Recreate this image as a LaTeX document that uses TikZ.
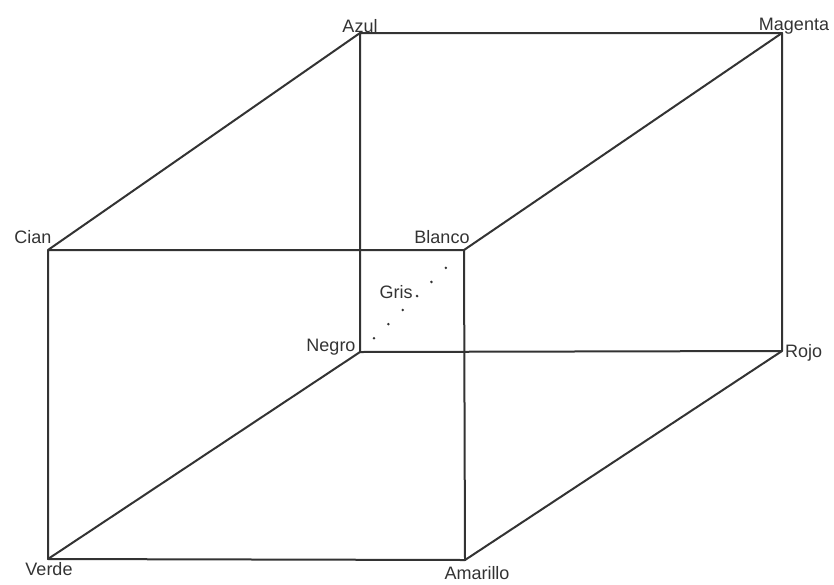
\documentclass[tikz,border=0pt]{standalone}
\usepackage{fontspec}
\setmainfont{Liberation Sans}
\usetikzlibrary{calc}
\begin{document}
\begin{tikzpicture}[x=1pt,y=-1pt,line join=round,line cap=round,font=\fontsize{18}{20}\selectfont,
	edge/.style={line width=2pt,black!80},
	tag/.style={anchor=base,inner sep=0pt,text=black!80}]
	\useasboundingbox (0,0) rectangle (834,584);
	\path
	(360,33) coordinate (Az)
	(782,33) coordinate (Mg)
	(48,250) coordinate (Ci)
	(464,250) coordinate (Bl)
	(360,352) coordinate (Ng)
	(782,351) coordinate (Rj)
	(48,559) coordinate (Vd)
	(465,560) coordinate (Am);
	% aristas del cubo
	\draw[edge] (Az) -- (Mg) -- (Rj) -- (Ng) -- cycle;
	\draw[edge] (Ci) -- (Bl) -- (Am) -- (Vd) -- cycle;
	\draw[edge] (Az) -- (Ci);
	\draw[edge] (Mg) -- (Bl);
	\draw[edge] (Rj) -- (Am);
	\draw[edge] (Ng) -- (Vd);
	% diagonal de grises
	\foreach \i in {0,...,5}
		\fill[black!80] ($(Ng)!0.135+0.138*\i!(Bl)$) circle (1.4);
	% etiquetas
	\node[tag] (tAz) at ($(Az)+(0,-1)$) {Azul};
	\node[tag] (tMg) at ($(Mg)+(12,-3)$) {Magenta};
	\node[tag] (tCi) at ($(Ci)+(-15,-7)$) {Cian};
	\node[tag] (tBl) at ($(Bl)+(-22,-7)$) {Blanco};
	\node[tag] (tGr) at ($(Ng)+(36,-54)$) {Gris};
	\node[tag] (tNg) at ($(Ng)+(-29,-1)$) {Negro};
	\node[tag,anchor=base west] (tRj) at ($(Rj)+(3,6)$) {Rojo};
	\node[tag] (tVd) at ($(Vd)+(1,16)$) {Verde};
	\node[tag] (tAm) at ($(Am)+(12,19)$) {Amarillo};
\end{tikzpicture}
\end{document}
